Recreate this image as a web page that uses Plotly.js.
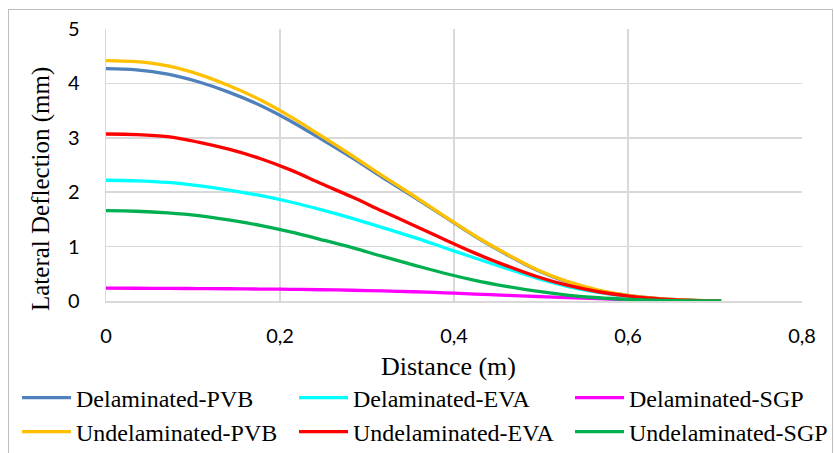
<!DOCTYPE html>
<html>
<head>
<meta charset="utf-8">
<script src="https://cdn.plot.ly/plotly-3.0.1.min.js"></script>
<style>
html,body{margin:0;padding:0;background:#fff;}
#wrap{position:relative;width:834px;height:453px;overflow:hidden;}
#chart{position:absolute;left:0;top:0;width:834px;height:453px;}
#frame{position:absolute;left:8px;top:9px;width:823px;height:450px;border:1px solid #bfbfbf;pointer-events:none;}
</style>
</head>
<body>
<div id="wrap"><div id="chart"></div><div id="frame"></div></div>
<script>
const distance = [0, 0.035, 0.071, 0.106, 0.141, 0.177, 0.212, 0.247, 0.283, 0.318, 0.354, 0.389, 0.424, 0.46, 0.495, 0.53, 0.566, 0.601, 0.636, 0.672, 0.707];
const delaminatedPVB = [4.27, 4.25, 4.17, 4.03, 3.84, 3.60, 3.31, 2.98, 2.63, 2.27, 1.91, 1.55, 1.19, 0.86, 0.57, 0.35, 0.19, 0.10, 0.045, 0.015, 0];
const delaminatedEVA = [2.22, 2.21, 2.18, 2.12, 2.04, 1.94, 1.82, 1.68, 1.52, 1.35, 1.17, 0.98, 0.79, 0.60, 0.42, 0.27, 0.16, 0.08, 0.03, 0.01, 0];
const delaminatedSGP = [0.235, 0.234, 0.232, 0.229, 0.225, 0.22, 0.215, 0.207, 0.198, 0.186, 0.17, 0.15, 0.128, 0.105, 0.083, 0.062, 0.042, 0.025, 0.011, 0.003, 0];
const undelaminatedPVB = [4.42, 4.40, 4.32, 4.17, 3.96, 3.70, 3.39, 3.04, 2.67, 2.30, 1.93, 1.56, 1.20, 0.87, 0.58, 0.36, 0.20, 0.10, 0.045, 0.015, 0];
const undelaminatedEVA = [3.07, 3.06, 3.02, 2.92, 2.79, 2.62, 2.41, 2.16, 1.91, 1.65, 1.39, 1.13, 0.88, 0.65, 0.45, 0.29, 0.17, 0.09, 0.04, 0.01, 0];
const undelaminatedSGP = [1.66, 1.65, 1.62, 1.57, 1.49, 1.39, 1.27, 1.13, 0.98, 0.82, 0.66, 0.51, 0.38, 0.27, 0.18, 0.11, 0.06, 0.03, 0.012, 0.004, 0];

const seriesNames = ["Delaminated-PVB", "Delaminated-EVA", "Delaminated-SGP", "Undelaminated-PVB", "Undelaminated-EVA", "Undelaminated-SGP"];
const seriesValues = [delaminatedPVB, delaminatedEVA, delaminatedSGP, undelaminatedPVB, undelaminatedEVA, undelaminatedSGP];
const seriesColors = ["#4F81BD", "#00FFFF", "#FF00FF", "#FFC000", "#FF0000", "#00B050"];
const xTicks = [0, 0.2, 0.4, 0.6, 0.8];
const yTicks = [0, 1, 2, 3, 4, 5];
const xTitle = "Distance (m)";
const yTitle = "Lateral Deflection (mm)";

const legendIds = ["legend", "legend2", "legend3", "legend4", "legend5", "legend6"];
const traces = seriesNames.map((n, i) => ({
  type: "scatter", mode: "lines", name: n,
  x: distance, y: seriesValues[i],
  line: {color: seriesColors[i], width: 3.3, shape: "spline", smoothing: 1},
  legend: legendIds[i],
  hoverinfo: "skip"
}));

const serif = "Liberation Serif, Times New Roman, serif";
const sans = "Lato, Liberation Sans, Arial, sans-serif";
const legendFont = {family: serif, size: 24, color: "#000"};
const colX = [17, 294, 570];
const rowY = [398, 432];
const layout = {
  width: 834, height: 453,
  margin: {l: 106, r: 32, t: 29, b: 152},
  paper_bgcolor: "#fff", plot_bgcolor: "#fff",
  separators: ", ",
  showlegend: true,
  font: {family: sans, color: "#000"},
  xaxis: {
    range: [0, 0.8], tickvals: xTicks, tickformat: ".1~f",
    showgrid: true, gridcolor: "#d9d9d9", gridwidth: 1.5,
    zeroline: false, showline: true, linecolor: "#d9d9d9", linewidth: 1.5,
    ticks: "", ticklabelstandoff: 16,
    tickfont: {family: sans, size: 20, color: "#000"}
  },
  yaxis: {
    range: [0, 5], tickvals: yTicks,
    showgrid: true, gridcolor: "#d9d9d9", gridwidth: 1.5,
    zeroline: false, showline: true, linecolor: "#d9d9d9", linewidth: 1.5,
    ticks: "", ticklabelstandoff: 21,
    tickfont: {family: sans, size: 20, color: "#000"}
  },
  annotations: [
    {text: xTitle, xref: "paper", yref: "paper", x: (448 - 106) / 696, y: (301 - 366) / 272,
     xanchor: "center", yanchor: "middle", showarrow: false, font: {family: serif, size: 26, color: "#000"}},
    {text: yTitle, xref: "paper", yref: "paper", x: (41 - 106) / 696, y: (301 - 189) / 272, textangle: -90,
     xanchor: "center", yanchor: "middle", showarrow: false, font: {family: serif, size: 25, color: "#000"}}
  ]
};
legendIds.forEach((id, i) => {
  layout[id] = {
    orientation: "h", xref: "container", yref: "container", xanchor: "left", yanchor: "middle",
    x: colX[i % 3] / 834, y: 1 - rowY[Math.floor(i / 3)] / 453,
    itemwidth: 49, font: legendFont, bgcolor: "rgba(0,0,0,0)", tracegroupgap: 0
  };
});
Plotly.newPlot("chart", traces, layout, {staticPlot: true, displayModeBar: false});
</script>
</body>
</html>
